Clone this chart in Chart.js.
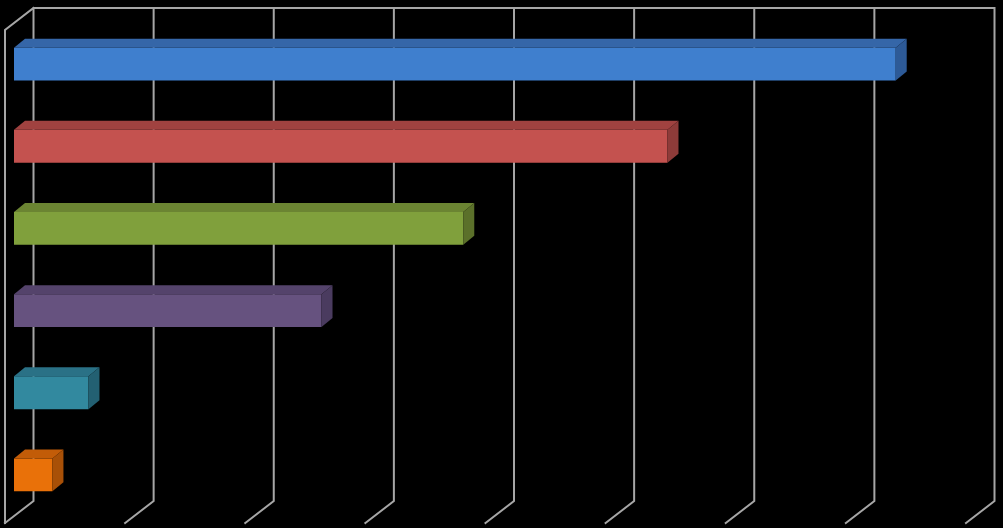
<!DOCTYPE html>
<html>
<head>
<meta charset="utf-8">
<title>Share by category</title>
<script src="https://cdn.jsdelivr.net/npm/chart.js@4/dist/chart.umd.min.js"></script>
<style>
  html, body { margin: 0; padding: 0; background: #000; }
  #wrap { width: 1003px; height: 528px; position: relative; }
</style>
</head>
<body>
<div id="wrap"><canvas id="barChart"></canvas></div>
<script>
// values (percent, axis 0-40 step 5)
const categories = ['1', '2', '3', '4', '5', '6'];
const shares = [36.7, 27.2, 18.7, 12.8, 3.1, 1.6];
const ticks = [0, 5, 10, 15, 20, 25, 30, 35, 40];

// front face: light at top, a little darker at bottom
const frontTop    = ['#3f7fce', '#c4524f', '#80a03c', '#66527f', '#32899f', '#e97109'];
const frontBottom = ['#3868ad', '#bb4d4a', '#7a9538', '#5f4a7a', '#2e7f95', '#e06a0a'];
const topColors   = ['#3566a8', '#a04240', '#6b8432', '#54436b', '#2a7186', '#c25c08'];
const sideColors  = ['#2d5a97', '#8e3b39', '#5b702a', '#4a3b5f', '#236072', '#a85007'];

const gridColor = '#a6a6a6';
// depth of the 3D box, measured from the bar plane
const back = { dx: 19.5, dy: -15 };
const front = { dx: -9, dy: 7 };
const barDepth = { dx: 11, dy: -9 };

const wallsPlugin = {
  id: 'walls',
  beforeDatasetsDraw(chart) {
    const { ctx, chartArea, scales } = chart;
    const x = scales.x;
    const top = chartArea.top + back.dy;
    const bottom = chartArea.bottom + back.dy;
    const ddx = front.dx - back.dx, ddy = front.dy - back.dy;
    ctx.save();
    ctx.strokeStyle = gridColor;
    ctx.lineWidth = 2;
    ctx.lineCap = 'square';
    ctx.beginPath();
    // back wall top edge
    ctx.moveTo(x.getPixelForValue(ticks[0]) + back.dx, top);
    ctx.lineTo(x.getPixelForValue(ticks[ticks.length - 1]) + back.dx, top);
    ticks.forEach((t) => {
      const bx = x.getPixelForValue(t) + back.dx;
      ctx.moveTo(bx, top);
      ctx.lineTo(bx, bottom);
      ctx.lineTo(bx + ddx, bottom + ddy);
    });
    // left side wall
    const bx0 = x.getPixelForValue(ticks[0]) + back.dx;
    ctx.moveTo(bx0, top);
    ctx.lineTo(bx0 + ddx, top + ddy);
    ctx.lineTo(bx0 + ddx, bottom + ddy);
    ctx.stroke();
    ctx.restore();
  },
  afterDatasetsDraw(chart) {
    const { ctx } = chart;
    const meta = chart.getDatasetMeta(0);
    ctx.save();
    meta.data.forEach((bar, i) => {
      const p = bar.getProps(['x', 'y', 'base', 'height'], true);
      const t = p.y - p.height / 2, b = p.y + p.height / 2;
      const { dx, dy } = barDepth;
      ctx.fillStyle = topColors[i];
      ctx.beginPath();
      ctx.moveTo(p.base, t);
      ctx.lineTo(p.x, t);
      ctx.lineTo(p.x + dx, t + dy);
      ctx.lineTo(p.base + dx, t + dy);
      ctx.closePath();
      ctx.fill();
      ctx.fillStyle = sideColors[i];
      ctx.beginPath();
      ctx.moveTo(p.x, t);
      ctx.lineTo(p.x + dx, t + dy);
      ctx.lineTo(p.x + dx, b + dy);
      ctx.lineTo(p.x, b);
      ctx.closePath();
      ctx.fill();
    });
    ctx.restore();
  },
};

const frontFill = (c) => {
  const el = c.element;
  if (!el || el.y === undefined || !isFinite(el.y)) return frontTop[c.dataIndex];
  const h = el.height || 32;
  const g = c.chart.ctx.createLinearGradient(0, el.y - h / 2, 0, el.y + h / 2);
  g.addColorStop(0, frontTop[c.dataIndex]);
  g.addColorStop(1, frontBottom[c.dataIndex]);
  return g;
};

const el = document.getElementById('barChart');
new Chart(el, {
  type: 'bar',
  data: {
    labels: categories,
    datasets: [{
      data: shares,
      backgroundColor: frontFill,
      borderWidth: 0,
      categoryPercentage: 1,
      barPercentage: 0.4,
    }],
  },
  options: {
    indexAxis: 'y',
    responsive: true,
    maintainAspectRatio: false,
    animation: false,
    layout: { padding: { left: 14, right: 28, top: 23, bottom: 12 } },
    plugins: { legend: { display: false }, tooltip: { enabled: false } },
    scales: {
      x: { display: false, min: 0, max: 40, ticks: { stepSize: 5 } },
      y: { display: false },
    },
  },
  plugins: [wallsPlugin],
});
</script>
</body>
</html>
